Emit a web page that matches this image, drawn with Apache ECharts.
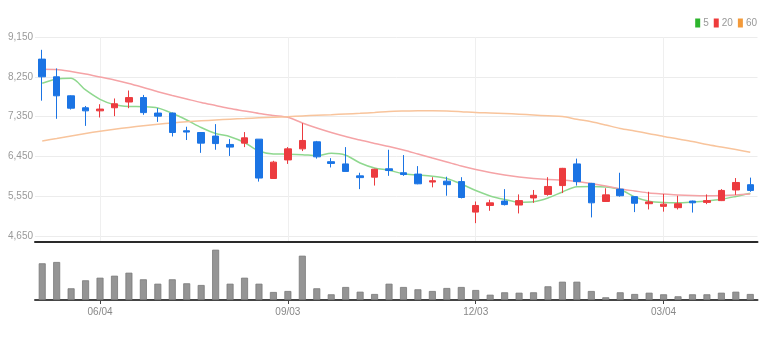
<!DOCTYPE html>
<html>
<head>
<meta charset="utf-8">
<script src="https://cdn.jsdelivr.net/npm/echarts@6/dist/echarts.min.js"></script>
<style>
  html, body { margin: 0; padding: 0; background: #fff; }
  #chart { width: 774px; height: 337px; }
</style>
</head>
<body>
<div id="chart"></div>
<script>
// Weekly candles (Tuesday week labels), prices in KRW
const dates = [
  '05/07','05/14','05/21','05/28','06/04','06/11','06/18','06/25','07/02','07/09',
  '07/16','07/23','07/30','08/06','08/13','08/20','08/27','09/03','09/10','09/17',
  '09/24','10/01','10/08','10/15','10/22','10/29','11/05','11/12','11/19','11/26',
  '12/03','12/10','12/17','12/24','12/31','01/07','01/14','01/21','01/28','02/04',
  '02/11','02/18','02/25','03/04','03/11','03/18','03/25','04/01','04/08','04/15'
];
const openPrices  = [8650,8250,7820,7550,7480,7550,7680,7780,7430,7430,7030,6990,6910,6720,6750,6840,5950,6370,6620,6780,6330,6280,6010,5980,6170,6080,6050,5870,5890,5880,5190,5340,5440,5350,5510,5590,5790,6280,5840,5430,5710,5540,5380,5320,5290,5440,5410,5450,5690,5810];
const closePrices = [8250,7820,7540,7480,7520,7640,7780,7440,7360,6990,7000,6750,6740,6660,6870,5960,6320,6620,6810,6440,6290,6110,5970,6160,6130,6040,5830,5900,5810,5520,5340,5400,5360,5450,5570,5770,6180,5880,5400,5580,5560,5390,5420,5370,5380,5400,5450,5680,5860,5680];
const lowPrices   = [7710,7300,7510,7140,7330,7360,7540,7390,7230,6900,6820,6530,6600,6460,6660,5880,5940,6280,6570,6400,6200,6110,5710,5790,6010,6010,5820,5750,5560,5500,4940,5220,5340,5160,5400,5560,5620,5790,5070,5420,5540,5190,5250,5200,5250,5180,5370,5440,5580,5650];
const highPrices  = [8860,8440,7830,7590,7630,7760,7940,7840,7540,7440,7120,6990,7180,6840,7000,6840,6350,6660,7200,6800,6410,6660,6080,6170,6600,6480,6230,5980,5990,5980,5430,5470,5710,5590,5690,5980,6190,6400,5850,5730,6080,5540,5650,5600,5560,5450,5590,5710,5960,5970];

// Moving averages (5 / 20 / 60 weeks)
const ma5  = [8103,8200,8216,7952,7741,7619,7579,7574,7545,7425,7273,7104,6968,6896,6765,6572,6505,6500,6489,6466,6520,6477,6301,6188,6136,6057,6030,6000,5951,5826,5679,5555,5476,5415,5426,5510,5645,5765,5770,5758,5702,5532,5437,5408,5404,5419,5442,5480,5544,5616];
const ma20 = [8420,8415,8370,8313,8246,8178,8099,8008,7913,7827,7748,7669,7601,7533,7477,7420,7375,7334,7206,7092,6991,6900,6821,6742,6674,6595,6505,6414,6324,6233,6154,6086,6030,5985,5951,5928,5917,5883,5838,5781,5713,5668,5623,5600,5578,5566,5562,5566,5578,5600];
const ma60 = [6799,6855,6912,6968,7018,7063,7104,7142,7176,7206,7233,7255,7273,7291,7307,7323,7337,7348,7364,7380,7393,7409,7425,7443,7466,7477,7484,7484,7477,7461,7443,7432,7420,7405,7386,7368,7353,7289,7233,7160,7081,7025,6964,6900,6844,6787,6719,6663,6606,6543];

// Weekly traded volume (thousand shares)
const volumes = [367,380,117,197,223,243,273,207,163,207,167,150,503,163,223,163,80,90,443,117,57,130,83,60,163,130,107,90,120,130,100,53,77,73,77,137,183,183,90,27,77,60,73,57,37,57,57,73,83,60];

const priceTicks = [4650, 5550, 6450, 7350, 8250, 9150];
const labelIndices = [4, 17, 30, 43];

const UP = '#ec3b3f';
const DOWN = '#1b74e4';
const FONT = '"Liberation Sans Narrow", "Liberation Sans", Arial, sans-serif';

const candles = dates.map((d, i) => [openPrices[i], closePrices[i], lowPrices[i], highPrices[i]]);
const showAt = (idx) => labelIndices.indexOf(idx) >= 0;
const fmt = (v) => String(v).replace(/\B(?=(\d{3})+(?!\d))/g, ',');

const chart = echarts.init(document.getElementById('chart'), null, { renderer: 'canvas' });

chart.setOption({
  animation: false,
  backgroundColor: '#fff',
  legend: {
    right: 12,
    top: 13,
    icon: 'rect',
    itemWidth: 5,
    itemHeight: 9,
    itemGap: 5,
    textStyle: { color: '#999', fontSize: 10, fontFamily: FONT, padding: [0, 0, 0, -2] },
    data: ['5', '20', '60']
  },
  grid: [
    { left: 35, right: 16.5, top: 37, height: 205 },
    { left: 35, right: 16.5, top: 248, height: 52 }
  ],
  xAxis: [
    {
      type: 'category',
      gridIndex: 0,
      data: dates,
      boundaryGap: true,
      axisLine: { show: true, lineStyle: { color: '#2a2a2a', width: 2 } },
      axisTick: { show: false, customValues: labelIndices },
      axisLabel: { show: false },
      splitLine: { show: true, alignWithLabel: true, lineStyle: { color: '#efefef', width: 1 } }
    },
    {
      type: 'category',
      gridIndex: 1,
      data: dates,
      boundaryGap: true,
      axisLine: { show: true, lineStyle: { color: '#444', width: 2 } },
      axisTick: { show: true, alignWithLabel: true, interval: (i) => showAt(i), length: 4, lineStyle: { color: '#444' } },
      axisLabel: { show: true, interval: (i) => showAt(i), color: '#888', fontSize: 10, fontFamily: FONT, margin: 7 },
      splitLine: { show: false }
    }
  ],
  yAxis: [
    {
      type: 'value',
      gridIndex: 0,
      min: 4514,
      max: 9150,
      axisLine: { show: false },
      axisTick: { show: false, customValues: priceTicks },
      axisLabel: { show: true, customValues: priceTicks, color: '#999', fontSize: 10, fontFamily: FONT, margin: 2, formatter: fmt },
      splitLine: { show: true, lineStyle: { color: '#ececec', width: 1 } }
    },
    {
      type: 'value',
      gridIndex: 1,
      min: 0,
      max: 520,
      show: false,
      splitLine: { show: false }
    }
  ],
  series: [
    {
      name: 'price',
      type: 'candlestick',
      xAxisIndex: 0,
      yAxisIndex: 0,
      data: candles,
      barWidth: 7,
      itemStyle: {
        color: UP, color0: DOWN,
        borderColor: UP, borderColor0: DOWN,
        borderWidth: 1
      },
      z: 5
    },
    {
      name: '5', type: 'line', xAxisIndex: 0, yAxisIndex: 0, data: ma5,
      symbol: 'none', smooth: 0.3,
      itemStyle: { color: '#2db52d' },
      lineStyle: { color: '#8fd88f', width: 1.5 }, z: 3
    },
    {
      name: '20', type: 'line', xAxisIndex: 0, yAxisIndex: 0, data: ma20,
      symbol: 'none', smooth: 0.3,
      itemStyle: { color: '#ee3b3b' },
      lineStyle: { color: '#f5a3a6', width: 1.5 }, z: 3
    },
    {
      name: '60', type: 'line', xAxisIndex: 0, yAxisIndex: 0, data: ma60,
      symbol: 'none', smooth: 0.3,
      itemStyle: { color: '#f39a3a' },
      lineStyle: { color: '#f8c49c', width: 1.5 }, z: 3
    },
    {
      name: 'volume', type: 'bar', xAxisIndex: 1, yAxisIndex: 1, data: volumes,
      barWidth: 7,
      itemStyle: { color: '#959595', borderColor: '#7a7a7a', borderWidth: 0.8 }
    }
  ]
});
</script>
</body>
</html>
